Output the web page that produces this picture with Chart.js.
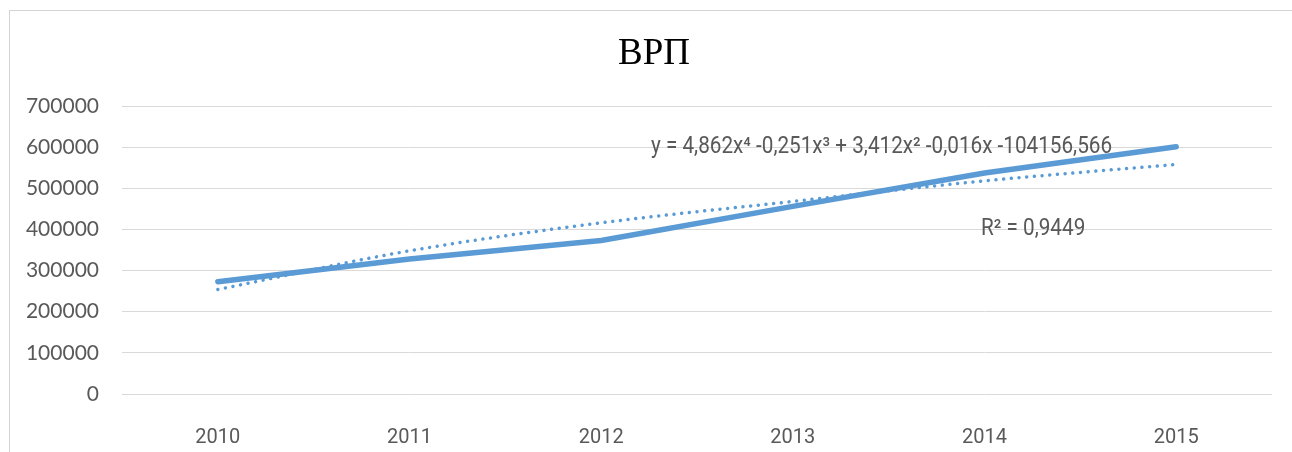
<!DOCTYPE html>
<html>
<head>
<meta charset="utf-8">
<script src="https://cdn.jsdelivr.net/npm/chart.js@4/dist/chart.umd.min.js"></script>
<style>
  html, body { margin: 0; padding: 0; background: #fff; overflow: hidden; }
  #frame { position: absolute; left: 9px; top: 10px; width: 1400px; height: 600px;
           border-left: 1px solid #d4d4d4; border-top: 1px solid #d4d4d4; }
  #grpChart { position: absolute; left: 0; top: 0; }
</style>
</head>
<body>
<div id="frame"></div>
<canvas id="grpChart" width="1292" height="452"></canvas>
<script>
// Данные графика ВРП
var years = ['2010', '2011', '2012', '2013', '2014', '2015'];
var grpValues = [273000, 328000, 373000, 456000, 537000, 601000];
var trendValues = [254000, 348000, 416000, 468000, 518000, 558000];
var yTicks = [0, 100000, 200000, 300000, 400000, 500000, 600000, 700000];
var titleText = 'ВРП';
var equationText = 'y = 4,862x⁴ -0,251x³ + 3,412x² -0,016x -104156,566';
var r2Text = 'R² = 0,9449';

var lineColor = '#5b9bd5';
var textColor = '#595959';

// Заголовок и подписи линии тренда
function drawCondensed(ctx, text, x, y, sx) {
    ctx.save();
    ctx.translate(x, y);
    ctx.scale(sx, 1);
    ctx.fillText(text, 0, 0);
    ctx.restore();
}

var chartTexts = {
    id: 'chartTexts',
    afterDatasetsDraw: function (chart) {
        var ctx = chart.ctx;
        var area = chart.chartArea;
        var w = area.right - area.left;
        var y = chart.scales.y;
        ctx.save();
        // заголовок
        ctx.fillStyle = '#000';
        ctx.font = '37px "Liberation Serif"';
        ctx.textAlign = 'center';
        ctx.textBaseline = 'alphabetic';
        ctx.fillText(titleText, area.left + w * 0.4626, 64);
        // уравнение и R²
        ctx.fillStyle = textColor;
        ctx.font = '23px Roboto';
        ctx.textAlign = 'left';
        ctx.textBaseline = 'middle';
        drawCondensed(ctx, equationText, area.left + w * 0.46, y.getPixelForValue(600000), 0.9);
        drawCondensed(ctx, r2Text, area.left + w * 0.747, y.getPixelForValue(400000), 0.9);
        ctx.restore();
    }
};

var ctx = document.getElementById('grpChart').getContext('2d');
var grpChart = new Chart(ctx, {
    type: 'line',
    data: {
        labels: years,
        datasets: [{
            label: 'ВРП',
            data: grpValues,
            borderColor: lineColor,
            borderWidth: 5.5,
            borderCapStyle: 'round',
            borderJoinStyle: 'round',
            pointRadius: 0,
            tension: 0
        }, {
            label: 'Тренд',
            data: trendValues,
            borderColor: lineColor,
            borderWidth: 3.5,
            borderDash: [0.01, 7.7],
            borderCapStyle: 'round',
            pointRadius: 0,
            cubicInterpolationMode: 'monotone'
        }]
    },
    options: {
        responsive: false,
        animation: false,
        layout: { padding: { left: 0, right: 20, top: 106, bottom: 0 } },
        plugins: {
            legend: { display: false },
            tooltip: { enabled: false },
            title: { display: false }
        },
        scales: {
            x: {
                offset: true,
                afterFit: function (scale) { scale.height = 58; },
                grid: { display: false },
                border: { display: false },
                ticks: {
                    color: textColor,
                    padding: 24,
                    maxRotation: 0,
                    font: { family: 'Roboto', size: 20 }
                }
            },
            y: {
                min: 0,
                max: 700000,
                afterFit: function (scale) { scale.width = 122; },
                afterBuildTicks: function (scale) {
                    scale.ticks = yTicks.map(function (v) { return { value: v }; });
                },
                grid: { color: '#d9d9d9', lineWidth: 1, drawTicks: false },
                border: { display: false },
                ticks: {
                    color: textColor,
                    padding: 23,
                    font: { family: 'Lato', size: 21 },
                    callback: function (v) { return String(v); }
                }
            }
        }
    },
    plugins: [chartTexts]
});
</script>
</body>
</html>
